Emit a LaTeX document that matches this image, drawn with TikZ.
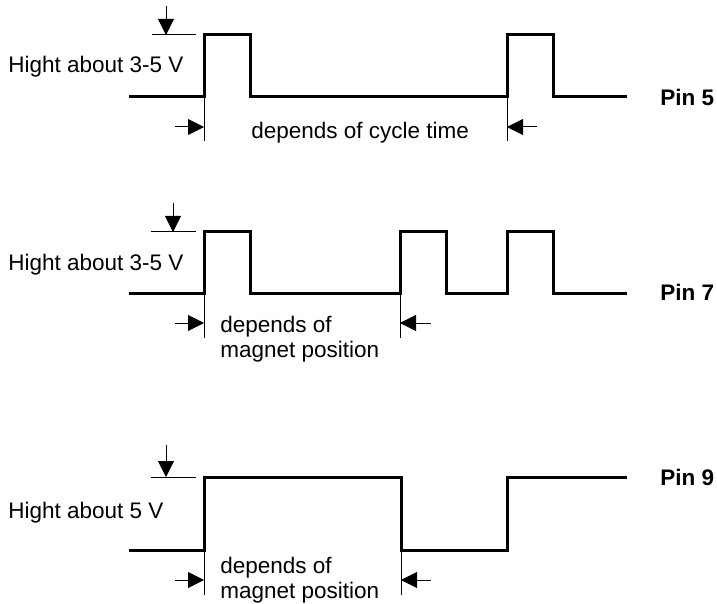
\documentclass[tikz,border=0pt]{standalone}
\usepackage{fontspec}
\setmainfont{Liberation Sans}
\usetikzlibrary{arrows.meta}
\tikzset{
    signal/.style={line width=1.5pt, line join=miter},
    guide/.style={line width=0.5pt},
    dimarrow/.style={guide, -{Triangle[length=8pt,width=8pt]}},
    txt/.style={inner sep=0pt, font=\fontsize{11.25}{12.5}\selectfont},
    pinname/.style={txt, font=\fontsize{11.25}{12.5}\selectfont\bfseries},
}

\begin{document}
\begin{tikzpicture}[x=0.5pt, y=-0.5pt]
\useasboundingbox (0,0) rectangle (717,604);
% Pin 5
\draw[signal]
    (129,97)--(204,97)--(204,35)--(250,35)--(250,97)--(507,97)
    --(507,35)--(553,35)--(553,97)--(627,97);
\draw[guide] (152,35)--(196,35) (204,97)--(204,141) (507,97)--(507,141);
\draw[dimarrow] (166,6)--(166,35);
\draw[dimarrow] (175,127)--(204,127);
\draw[dimarrow] (537,127)--(507,127);
\draw
    (8,67) node[txt, anchor=west] (hight5) {Hight about 3-5 V}
    (251,133) node[txt, anchor=west] (cycle5) {depends of cycle time}
    (660,97) node[pinname, anchor=west] (pin5) {Pin 5}
    ;
% Pin 7
\draw[signal]
    (129,293)--(204,293)--(204,232)--(250,232)--(250,293)--(400,293)
    --(400,232)--(446,232)--(446,293)--(507,293)--(507,232)--(553,232)
    --(553,293)--(627,293);
\draw[guide] (151,232)--(196,232) (204,293)--(204,338) (400,293)--(400,338);
\draw[dimarrow] (173,203)--(173,232);
\draw[dimarrow] (175,323)--(204,323);
\draw[dimarrow] (431,323)--(400,323);
\draw
    (8,265) node[txt, anchor=west] (hight7) {Hight about 3-5 V}
    (220,339) node[txt, anchor=west, align=left] (magnet7) {depends of\\magnet position}
    (660,292) node[pinname, anchor=west] (pin7) {Pin 7}
    ;
% Pin 9
\draw[signal]
    (129,550)--(204,550)--(204,477)--(401,477)--(401,550)--(507,550)
    --(507,477)--(627,477);
\draw[guide] (151,477)--(196,477) (204,550)--(204,595) (401,550)--(401,595);
\draw[dimarrow] (166,445)--(166,477);
\draw[dimarrow] (175,580)--(204,580);
\draw[dimarrow] (431,580)--(401,580);
\draw
    (8,513) node[txt, anchor=west] (hight9) {Hight about 5 V}
    (220,580) node[txt, anchor=west, align=left] (magnet9) {depends of\\magnet position}
    (660,477) node[pinname, anchor=west] (pin9) {Pin 9}
    ;
\end{tikzpicture}
\end{document}
